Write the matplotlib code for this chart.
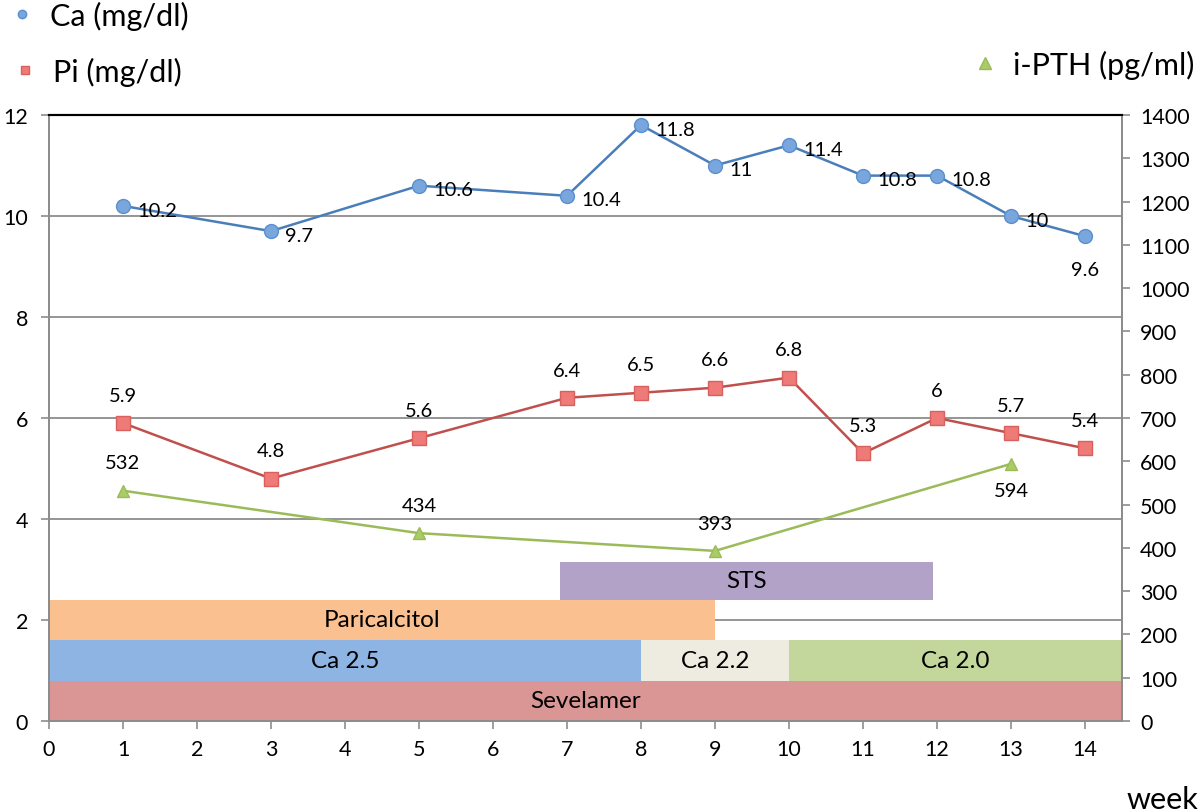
import matplotlib.pyplot as plt
from matplotlib.lines import Line2D

plt.rcParams['font.family'] = ['Lato', 'DejaVu Sans']

# Lab values per week
weeks = [1, 3, 5, 7, 8, 9, 10, 11, 12, 13, 14]
ca = [10.2, 9.7, 10.6, 10.4, 11.8, 11, 11.4, 10.8, 10.8, 10, 9.6]
pi = [5.9, 4.8, 5.6, 6.4, 6.5, 6.6, 6.8, 5.3, 6, 5.7, 5.4]
pth_weeks = [1, 5, 9, 13]
pth = [532, 434, 393, 594]

# Treatment periods (weeks) and their lanes (left-axis units)
tx_names = ['Sevelamer', 'Ca 2.5', 'Ca 2.2', 'Ca 2.0', 'Paricalcitol', 'STS']
tx_start = [0, 0, 8, 10, 0, 6.9]
tx_end = [14.5, 8, 10, 14.5, 9, 11.95]
tx_bottom = [0, 0.8, 0.8, 0.8, 1.6, 2.4]
tx_height = [0.8, 0.8, 0.8, 0.8, 0.8, 0.75]
tx_colors = ['#d99694', '#8eb4e3', '#eeece1', '#c3d69b', '#fac090', '#b3a2c7']

fig = plt.figure(figsize=(12, 8.12), dpi=100)
ax = fig.add_axes([49/1200, 1 - 722/812, (1122 - 49)/1200, (722 - 116)/812])
ax2 = ax.twinx()

# treatment bars
widths = [e - s for s, e in zip(tx_start, tx_end)]
ax.barh(tx_bottom, widths, left=tx_start, height=tx_height, align='edge',
        color=tx_colors, zorder=2)
for name, s, e, b, h in zip(tx_names, tx_start, tx_end, tx_bottom, tx_height):
    ax.text((s + e) / 2, b + h / 2, name, ha='center', va='center',
            fontsize=17.5, zorder=3)

# Ca
ax.plot(weeks, ca, color='#4a7ebb', lw=1.8, marker='o', ms=10,
        mfc='#7aa6de', mec='#5b8fd0', zorder=4)
for x, v in zip(weeks, ca):
    lbl = f'{v:g}'
    if x == 14:
        ax.annotate(lbl, (x, v), xytext=(0, -24), textcoords='offset points',
                    ha='center', va='center', fontsize=14.5, zorder=5)
    else:
        ax.annotate(lbl, (x, v), xytext=(10, -3), textcoords='offset points',
                    ha='left', va='center', fontsize=14.5, zorder=5)

# Pi
ax.plot(weeks, pi, color='#c0504d', lw=1.8, marker='s', ms=10,
        mfc='#ee7b78', mec='#d9605c', zorder=4)
for x, v in zip(weeks, pi):
    ax.annotate(f'{v:g}', (x, v), xytext=(0, 20), textcoords='offset points',
                ha='center', va='center', fontsize=14.5, zorder=5)

# i-PTH on right axis
ax2.plot(pth_weeks, pth, color='#9bbb59', lw=1.8, marker='^', ms=9,
         mfc='#a9cc66', mec='#9bbb59', zorder=4)
for x, v in zip(pth_weeks, pth):
    dy = -19 if x == 13 else 20
    ax2.annotate(f'{v}', (x, v), xytext=(0, dy), textcoords='offset points',
                 ha='center', va='center', fontsize=14.5)

# axes
ax.set_xlim(0, 14.5)
ax.set_ylim(0, 12)
ax2.set_ylim(0, 1400)
ax.set_xticks(range(0, 15))
ax.set_yticks(range(0, 13, 2))
ax2.set_yticks(range(0, 1401, 100))
ax.set_axisbelow(True)
ax.yaxis.grid(True, color='#8c8c8c', lw=1.3)

for a in (ax, ax2):
    for side in ('left', 'right', 'bottom'):
        a.spines[side].set_color('#8c8c8c')
        a.spines[side].set_linewidth(1.3)
    a.spines['top'].set_color('black')
    a.spines['top'].set_linewidth(1.5)
ax.tick_params(axis='both', colors='#8c8c8c', labelcolor='black',
               labelsize=15.5, length=6, width=1.2)
ax.tick_params(axis='x', pad=7)
ax.tick_params(axis='y', pad=9)
ax2.tick_params(axis='y', colors='#8c8c8c', labelcolor='black',
                labelsize=15.5, length=6, width=1.2, pad=7)

ax.text(1.038, -0.128, 'week', transform=ax.transAxes, ha='center',
        va='center', fontsize=22)

# legends
h_ca = Line2D([], [], ls='none', marker='o', ms=6, mfc='#7aa6de', mec='#5b8fd0')
h_pi = Line2D([], [], ls='none', marker='s', ms=6, mfc='#ee7b78', mec='#d9605c')
h_pth = Line2D([], [], ls='none', marker='^', ms=9, mfc='#a9cc66', mec='#9bbb59')
leg_kw = dict(frameon=False, fontsize=22, handlelength=0.8, borderpad=0,
              borderaxespad=0, handletextpad=0.5)
l1 = fig.legend([h_ca], ['Ca (mg/dl)'], loc='center left',
                bbox_to_anchor=(10/1200, 1 - 16/812), **leg_kw)
l2 = fig.legend([h_pi], ['Pi (mg/dl)'], loc='center left',
                bbox_to_anchor=(13/1200, 1 - 72/812), **leg_kw)
l3 = fig.legend([h_pth], ['i-PTH (pg/ml)'], loc='center left',
                bbox_to_anchor=(973/1200, 1 - 65/812), **leg_kw)

fig.savefig('out.png', dpi=100)
